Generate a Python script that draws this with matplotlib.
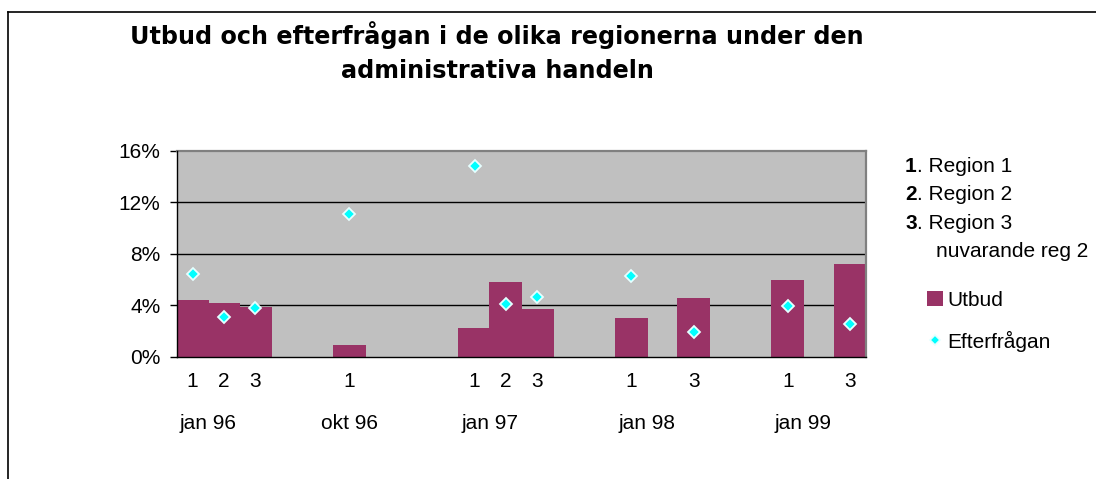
import matplotlib
matplotlib.use("Agg")
import matplotlib.pyplot as plt
import matplotlib.transforms as mtransforms
from matplotlib.lines import Line2D
import numpy as np

# ---------------- data ----------------
slot_labels = ["1", "2", "3", "", "", "1", "", "", "", "1", "2", "3",
               "", "", "1", "", "3", "", "", "1", "", "3"]
utbud = [4.38, 4.17, 3.86, np.nan, np.nan, 0.88, np.nan, np.nan, np.nan,
         2.20, 5.78, 3.68, np.nan, np.nan, 2.98, np.nan, 4.59, np.nan,
         np.nan, 5.96, np.nan, 7.18]
efterfragan = [6.41, 3.06, 3.81, np.nan, np.nan, 11.10, np.nan, np.nan, np.nan,
               14.86, 4.10, 4.64, np.nan, np.nan, 6.30, np.nan, 1.89, np.nan,
               np.nan, 3.94, np.nan, 2.54]
group_labels = ["jan 96", "okt 96", "jan 97", "jan 98", "jan 99"]
group_pos = [0.5, 5, 9.5, 14.5, 19.5]
y_ticks = [0, 4, 8, 12, 16]
y_ticklabels = ["0%", "4%", "8%", "12%", "16%"]
title_lines = ["Utbud och efterfrågan i de olika regionerna under den",
               "administrativa handeln"]
region_nums = ["1", "2", "3"]
region_texts = [". Region 1", ". Region 2", ". Region 3"]
region_extra = "nuvarande reg 2"
series_names = ["Utbud", "Efterfrågan"]

# ---------------- style ----------------
BAR = "#993366"
BG = "#C0C0C0"
FONT = "Liberation Sans"
FS = 15

W, H = 1096, 479
fig = plt.figure(figsize=(W / 100, H / 100), dpi=100)
fig.patch.set_facecolor("white")

L, R, T, B = 177, 866, 151, 356.67
ax = fig.add_axes([L / W, 1 - B / H, (R - L) / W, (B - T) / H])
ax.set_facecolor(BG)

x = np.arange(len(slot_labels))
bars = ax.bar(x, utbud, width=1.05, color=BAR, edgecolor="none", zorder=2)
pts, = ax.plot(x, efterfragan, linestyle="none", marker="D", markersize=6.2,
               markerfacecolor="#00FFFF", markeredgecolor="#E6FFFF",
               markeredgewidth=1.3, zorder=4, clip_on=False)

ax.set_xlim(-0.5, len(slot_labels) - 0.5)
ax.set_ylim(0, 16)
ax.set_yticks(y_ticks)
ax.set_yticklabels(y_ticklabels, fontfamily=FONT, fontsize=FS)
ax.set_xticks(x)
ax.set_xticklabels(slot_labels, fontfamily=FONT, fontsize=FS)
ax.tick_params(axis="x", length=0, pad=11.2)
ax.tick_params(axis="y", length=5.3, width=1, pad=6.7, color="black")

for yv in y_ticks[1:-1]:
    ax.axhline(yv, color="black", lw=1.0, zorder=1)

for s in ["top", "right"]:
    ax.spines[s].set_color("#808080")
    ax.spines[s].set_linewidth(1.6)
for s in ["left", "bottom"]:
    ax.spines[s].set_color("black")
    ax.spines[s].set_linewidth(1.0)
    ax.spines[s].set_zorder(5)

trans = mtransforms.blended_transform_factory(ax.transData, ax.transAxes)
for gp, gl in zip(group_pos, group_labels):
    ax.text(gp, -0.3497, gl, transform=trans, ha="center", va="baseline",
            fontfamily=FONT, fontsize=FS)

# title
fig.text(497 / W, 1 - 44.3 / H, title_lines[0], ha="center", va="baseline",
         fontfamily="DejaVu Sans", fontweight="bold", fontsize=17.2)
fig.text(497 / W, 1 - 77.9 / H, title_lines[1], ha="center", va="baseline",
         fontfamily="DejaVu Sans", fontweight="bold", fontsize=17.2)

# region key
baselines = [171.7, 200.0, 228.7]
for n, t, b in zip(region_nums, region_texts, baselines):
    fig.text(905 / W, 1 - b / H, n, ha="left", va="baseline",
             fontfamily=FONT, fontweight="bold", fontsize=FS)
    fig.text(917 / W, 1 - b / H, t, ha="left", va="baseline",
             fontfamily=FONT, fontsize=FS)
fig.text(936 / W, 1 - 256.7 / H, region_extra, ha="left", va="baseline",
         fontfamily=FONT, fontsize=FS)

# series legend
leg_pt = Line2D([], [], linestyle="none", marker="D", markersize=5.2,
                markerfacecolor="#00FFFF", markeredgecolor="#E6FFFF",
                markeredgewidth=1.2)
leg = fig.legend([bars, leg_pt], series_names, loc="upper left",
                 bbox_to_anchor=(927.3 / W, 1 - 291 / H), frameon=False,
                 prop={"family": FONT, "size": FS}, borderpad=0,
                 borderaxespad=0, handlelength=0.75, handleheight=0.75,
                 handletextpad=0.2, labelspacing=1.0)

# outer chart border (top and left visible)
fig.add_artist(Line2D([8 / W, 1], [1 - 12 / H, 1 - 12 / H], color="black", lw=1.2,
                      transform=fig.transFigure))
fig.add_artist(Line2D([8 / W, 8 / W], [1 - 12 / H, 0], color="black", lw=1.2,
                      transform=fig.transFigure))

fig.savefig("out.png", dpi=100)
